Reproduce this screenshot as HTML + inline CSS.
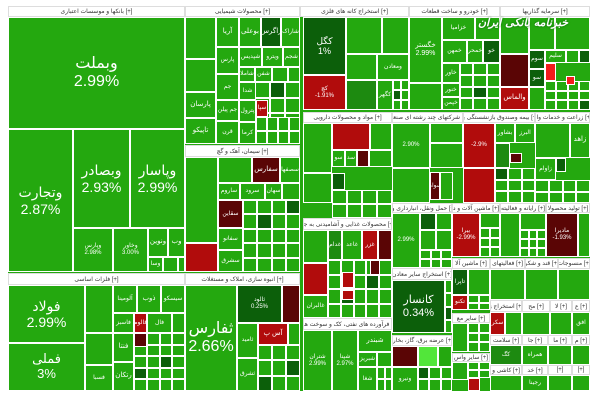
<!DOCTYPE html>
<html><head><meta charset="utf-8">
<style>
body{margin:0;background:#fff;width:600px;height:400px;overflow:hidden;font-family:"Liberation Sans","DejaVu Sans",sans-serif}
#map{position:absolute;left:8px;top:6px;width:582px;height:385px;background:#24a80f}
.c{position:absolute;box-sizing:border-box;border:1px solid #fff;color:#fff;display:flex;align-items:center;justify-content:center;text-align:center;line-height:1.15;overflow:hidden;white-space:pre}
.h{position:absolute;box-sizing:border-box;border:1px solid #ddd;background:#fff;color:#333;font-size:6px;display:flex;align-items:center;justify-content:center;overflow:hidden;white-space:nowrap}
#wm{position:absolute;left:478px;top:16px;color:#fff;font-size:11px;font-weight:bold;font-family:"DejaVu Sans",sans-serif;font-style:italic;text-shadow:0 0 2px #060}
</style></head><body>
<div id="map"></div>
<div id="wm">خبرنامه بانکی ایران</div>
<script>
const COLORS={g:'#24a80f',D:'#0c5f0a',M:'#1d8a10',R:'#b10c0c',K:'#5a0505',B:'#f21c1c',L:'#52e63a'};
const headers=[
[8,6,185,17,'بانکها و موسسات اعتباری [+]'],[185,6,300,17,'محصولات شیمیایی [+]'],[300,6,409,17,'استخراج کانه های فلزی [+]'],
[409,6,500,17,'خودرو و ساخت قطعات [+]'],[500,6,590,17,'سرمایه گذاریها [+]'],[185,145,300,157,'سیمان، آهک و گچ [+]'],
[8,273,185,285,'فلزات اساسی [+]'],[185,273,300,285,'انبوه سازی، املاک و مستغلات [+]'],
[303,112,392,123,'مواد و محصولات دارویی [+]'],[392,112,463,123,'شرکتهای چند رشته ای صنعتی [+]'],[463,112,535,123,'بیمه وصندوق بازنشستگی به [+]'],[535,112,590,123,'زراعت و خدمات وابـ [+]'],
[303,218,392,230,'محصولات غذایی و آشامیدنی به جز [+]'],[303,318,392,330,'فرآورده های نفتی، کک و سوخت هس [+]'],
[392,203,452,213,'حمل ونقل، انبارداری و ا [+]'],[452,203,500,213,'ماشین آلات و د [+]'],[500,203,546,213,'رایانه و فعالیته [+]'],[546,203,590,213,'تولید محصولا [+]'],
[392,268,452,280,'استخراج سایر معادن [+]'],[392,335,452,346,'عرضه برق، گاز، بخارآ [+]'],
[452,258,490,269,'ماشین آلا [+]'],[490,258,525,269,'فعالیتهای [+]'],[525,258,558,269,'قند و شکر [+]'],[558,258,590,269,'منسوجات [+]'],
[490,300,522,312,'استخراج ز [+]'],[522,300,550,312,'مح [+]'],[550,300,572,312,'لا [+]'],[572,300,590,312,'ع [+]'],
[452,313,490,323,'سایر مع [+]'],[452,353,490,362,'سایر واس [+]'],
[490,335,522,345,'سلامت [+]'],[522,335,548,345,'جا [+]'],[548,335,572,345,'ما [+]'],[572,335,590,345,'م [+]'],
[490,365,522,375,'کاشی و [+]'],[522,365,548,375,'خد [+]'],[548,365,572,375,'[+]'],[572,365,590,375,'[+]']
];
const cells=[
[8,17,185,129,'g','وبملت\n2.99%',16],[8,129,73,272,'g','وتجارت\n2.87%',14],[73,129,130,228,'g','وبصادر\n2.93%',14],[130,129,185,228,'g','وپاسار\n2.99%',14],
[73,228,113,272,'g','وپارس\n2.98%',6],[113,228,148,272,'g','وخاور\n3.00%',6],[148,228,168,257,'g','ونوین',7],[168,228,185,257,'g','وب',7],
[148,257,163,272,'g','وسا',6],[163,257,178,272,'g','',6],[178,257,185,272,'g','',6],
[185,17,216,59,'g','',6],[185,59,216,92,'g','',6],[185,92,216,118,'g','پارسان',7],[185,118,216,144,'g','تاپیکو',7],
[216,17,239,47,'g','آریا',7],[216,47,239,74,'g','پارس',6],[216,74,239,100,'g','جم',6],[216,100,239,121,'g','جم پیلن',6],[216,121,239,144,'g','قرن',6],
[239,17,261,47,'g','بوعلی',7],[261,17,281,47,'D','زاگرس',7],[281,17,300,47,'g','شاراک',6],
[239,47,262,67,'g','شپدیس',6],[262,47,283,67,'g','ویترو',6],[283,47,300,67,'g','شجم',6],
[239,67,255,82,'g','شاملا',6],[255,67,272,82,'g','شفن',6],[272,67,288,82,'g','',6],[288,67,300,82,'g','',6],
[239,82,256,100,'g','شدا',6],[256,100,268,117,'R','سپا',6],[239,100,256,122,'g','پترول',6],[239,122,256,144,'g','کرما',6],
[185,157,218,243,'g','',6],[185,243,218,272,'R','',6],[218,157,252,183,'g','',6],[252,157,280,183,'K','سفارس',7],[280,157,300,183,'g','سصفها',6],
[218,183,240,200,'g','ساروم',6],[240,183,265,200,'g','سرود',6],[265,183,282,200,'g','سهان',6],[282,183,300,200,'g','',6],
[218,200,243,228,'K','سقاین',6],[218,228,243,250,'g','سفانو',6],[218,250,243,272,'g','سشرق',6],
[185,285,237,391,'g','ثفارس\n2.66%',16],[237,285,282,323,'D','ثالود\n0.25%',6],[282,285,300,323,'K','',6],
[237,323,258,358,'g','ثامید',6],[258,323,288,345,'R','آس پ',7],[288,323,300,345,'g','',6],[237,358,258,391,'g','ثشرق',6],
[8,285,85,343,'g','فولاد\n2.99%',14],[8,343,85,391,'g','فملی\n3%',13],
[85,285,113,333,'g','',6],[85,333,113,365,'g','',6],[85,365,113,391,'g','فسبا',6],
[113,285,137,313,'g','آلومینا',6],[137,285,161,313,'g','ذوب',7],[161,285,185,313,'g','سیسکو',6],
[113,313,134,333,'g','فاسبز',6],[134,313,147,333,'R','فالوم',6],[147,313,172,333,'g','فال',6],[172,313,185,333,'g','',6],
[134,333,147,347,'K','',6],[113,333,134,362,'g','فنتا',7],[113,362,134,391,'g','رتکان',7],
[303,17,346,75,'D','کگل\n1%',9],[303,75,346,110,'R','کچ\n-1.91%',6],[346,17,382,54,'g','',6],[382,17,409,54,'g','',6],
[346,54,377,80,'g','',6],[377,54,409,80,'g','ومعادن',6],[346,80,377,110,'M','',6],[377,80,393,110,'g','کگهر',6],
[409,17,442,83,'g','خگستر\n2.99%',7],[409,83,442,110,'g','',6],[442,17,475,40,'g','خزامیا',6],[475,17,500,40,'g','',6],
[442,40,467,63,'g','خمهن',6],[467,40,483,63,'g','خمحر',6],[483,40,500,63,'D','خو',6],[442,63,460,83,'g','خاور',6],[442,83,460,97,'g','خنور',6],[442,97,460,110,'g','خپمن',6],
[500,17,529,54,'g','',6],[500,54,529,87,'K','',7],[500,87,529,110,'R','والماس',7],[529,17,555,50,'g','',6],[555,17,590,50,'g','',6],
[529,50,545,69,'D','سوم',6],[545,50,566,63,'g','سلیم',6],[566,50,579,63,'g','',6],[579,50,590,63,'D','',6],[545,63,556,81,'B','',6],[566,76,575,85,'B','',6],[529,69,545,87,'D','سو',6],[529,87,545,110,'g','',6],
[303,123,332,173,'g','',6],[332,123,370,150,'R','',6],[370,123,392,150,'g','',6],[332,150,345,167,'g','سو',6],[345,150,357,167,'g','سد',6],[357,150,369,167,'K','',6],[369,150,392,167,'g','',6],[303,173,332,203,'g','',6],[332,173,345,190,'D','',6],
[392,123,430,168,'g','2.90%',6],[430,123,463,143,'g','',6],[430,143,463,168,'g','',6],[392,168,430,203,'g','',6],[430,172,440,200,'K','سوام',6],[440,172,453,200,'g','',6],
[463,123,495,168,'R','-2.9%',6],[463,168,495,203,'R','',6],[495,123,515,143,'g','بشاور',6],[515,123,535,143,'g','البرز',6],[495,143,510,168,'M','',6],[510,153,522,163,'K','',6],
[535,123,570,158,'g','',6],[570,123,590,158,'g','زاهد',7],[535,158,556,180,'g','زاوام',6],[556,158,566,172,'D','',6],
[303,230,328,263,'g','',6],[303,263,328,295,'R','',6],[303,295,328,318,'g','غالبران',6],[328,230,342,260,'M','غدام',6],[342,230,362,260,'g','غاعد',6],[362,230,378,260,'R','غزر',6],[378,230,392,260,'K','',6],
[342,290,354,300,'R','',6],[342,272,354,288,'R','',6],[370,260,380,275,'K','',6],
[303,330,332,391,'g','شتران\n2.99%',6],[332,330,358,391,'g','شپنا\n2.97%',6],[358,330,392,352,'g','شبندر',7],[358,352,377,367,'g','شبریز',6],[377,352,392,367,'g','',6],[358,367,377,391,'g','شغا',6],
[392,213,420,268,'g','2.99%',6],[420,213,436,230,'D','',6],[436,213,452,230,'g','',6],[420,230,436,250,'g','',6],[436,230,452,250,'g','',6],
[392,280,445,333,'D','کانسار\n0.34%',11],
[392,346,418,367,'K','',6],[418,346,438,367,'L','',6],[438,346,452,367,'g','',6],[392,367,418,391,'g','ونیرو',6],
[452,213,480,257,'R','بیرا\n-2.99%',6],[480,213,500,228,'g','',6],
[452,269,468,295,'D','تاپرا',6],[468,269,490,295,'g','',6],[452,295,468,310,'R','تکنو',6],
[452,323,468,352,'g','',6],[468,378,480,391,'R','',6],[452,362,468,380,'g','',6],
[500,213,520,257,'g','',6],[520,213,546,230,'g','',6],[546,213,578,257,'K','مادیرا\n-1.93%',6],[578,213,590,257,'g','',6],
[490,269,525,300,'g','',6],[525,269,558,300,'g','',6],[558,269,590,300,'g','',6],
[490,312,505,335,'R','سکر',6],[505,312,522,335,'g','',6],[522,312,550,335,'g','',6],[550,312,572,335,'g','',6],[572,312,590,335,'g','افق',6],
[490,345,522,365,'M','کگ',6],[522,345,548,365,'g','همراه',6],[548,345,572,365,'g','',6],[572,345,590,365,'g','',6],
[490,375,522,391,'g','',6],[522,375,548,391,'g','رجینا',6],[548,375,572,391,'g','',6],[572,375,590,391,'g','',6]
];
const grids=[
[239,82,300,144,4,4],[256,117,300,144,4,2],[243,200,300,272,4,5],[258,345,300,391,3,3],
[134,333,185,391,4,5],[393,80,409,110,2,3],[460,63,500,110,3,4],[545,81,590,110,4,3],
[332,190,392,218,4,2],[440,143,463,168,2,2],[495,168,535,203,3,3],[535,180,590,203,4,2],
[328,260,392,318,5,4],[377,367,392,391,2,2],[420,250,452,268,3,2],[445,280,452,333,1,4],
[418,367,452,391,3,2],[480,228,500,257,2,3],[468,295,490,310,2,2],[468,323,490,352,2,3],[468,362,490,378,2,2],
[520,230,546,257,3,3]
];
const map=document.getElementById('map');
function place(el,x1,y1,x2,y2){el.style.left=(x1-8)+'px';el.style.top=(y1-6)+'px';el.style.width=(x2-x1)+'px';el.style.height=(y2-y1)+'px';}
grids.forEach(g=>{const[x1,y1,x2,y2,c,r]=g;const w=(x2-x1)/c,h=(y2-y1)/r;
 for(let i=0;i<c;i++)for(let j=0;j<r;j++){const d=document.createElement('div');d.className='c';
  
  
  d.style.background=((i*7+j*3+x1)%11==0)?COLORS.D:COLORS.g;place(d,x1+i*w,y1+j*h,x1+(i+1)*w,y1+(j+1)*h);map.appendChild(d);}});
cells.forEach(c=>{const d=document.createElement('div');d.className='c';
 
 
 d.style.background=COLORS[c[4]];d.style.fontSize=c[6]+'px';d.textContent=c[5];place(d,c[0],c[1],c[2],c[3]);map.appendChild(d);});
headers.forEach(h=>{const d=document.createElement('div');d.className='h';
 
 
 d.textContent=h[4];place(d,h[0],h[1],h[2],h[3]);map.appendChild(d);});
</script>
</body></html>
